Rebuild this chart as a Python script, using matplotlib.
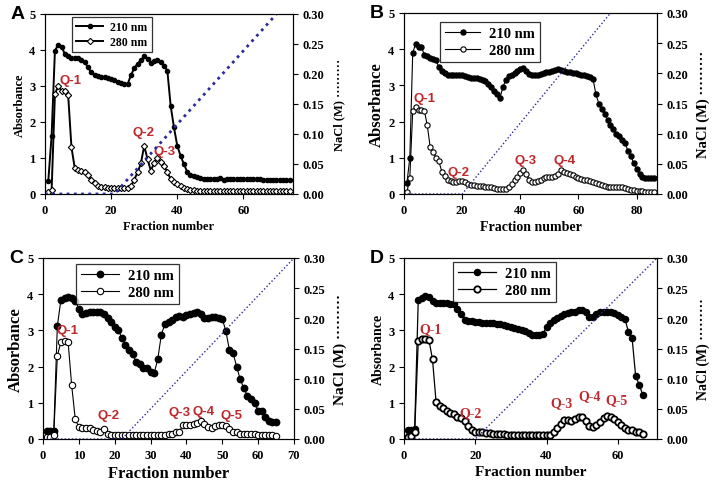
import matplotlib
matplotlib.use('Agg')
import matplotlib.pyplot as plt
from matplotlib.ticker import FormatStrFormatter

plt.rcParams['font.family'] = ['Liberation Serif', 'DejaVu Serif']
plt.rcParams['font.weight'] = 'bold'
plt.rcParams['axes.labelweight'] = 'bold'

# ---- data ----
a_210 = [0.37, 1.62, 3.98, 4.15, 4.09, 3.89, 3.82, 3.78, 3.78, 3.77,
         3.72, 3.66, 3.52, 3.38, 3.31, 3.28, 3.26, 3.24, 3.22, 3.20,
         3.18, 3.10, 3.07, 3.06, 3.06, 3.30, 3.50, 3.62, 3.72, 3.82,
         3.75, 3.64, 3.70, 3.73, 3.68, 3.56, 3.43, 2.45, 1.85, 1.34,
         1.06, 0.83, 0.62, 0.53, 0.49, 0.46, 0.44, 0.42, 0.42, 0.43,
         0.43, 0.42, 0.44, 0.38, 0.42, 0.42, 0.42, 0.41, 0.41, 0.41,
         0.41, 0.41, 0.41, 0.41, 0.41, 0.40, 0.40, 0.40, 0.40, 0.40,
         0.40, 0.39, 0.39, 0.39]
a_280 = [0.05, 0.10, 2.78, 3.00, 2.87, 2.87, 2.75, 1.30, 0.72, 0.68,
         0.63, 0.60, 0.52, 0.40, 0.30, 0.23, 0.20, 0.19, 0.18, 0.18,
         0.18, 0.17, 0.17, 0.16, 0.17, 0.22, 0.40, 0.60, 0.85, 1.34,
         0.97, 0.65, 0.86, 1.00, 0.88, 0.79, 0.60, 0.42, 0.33, 0.27,
         0.22, 0.18, 0.15, 0.12, 0.10, 0.09, 0.08, 0.07, 0.07, 0.07,
         0.07, 0.07, 0.07, 0.07, 0.07, 0.07, 0.07, 0.07, 0.07, 0.07,
         0.07, 0.07, 0.07, 0.07, 0.07, 0.07, 0.07, 0.07, 0.07, 0.07,
         0.07, 0.07, 0.07, 0.07]
a_nacl_x = [0, 21, 70]
a_nacl_y = [0.0, 0.0, 0.30]

b_210 = [0.30, 1.00, 3.90, 4.15, 4.05, 4.05, 3.85, 3.80, 3.75, 3.72,
         3.70, 3.50, 3.40, 3.35, 3.30, 3.28, 3.28, 3.28, 3.28, 3.28,
         3.25, 3.22, 3.20, 3.20, 3.20, 3.18, 3.15, 3.12, 3.05, 2.95,
         2.85, 2.75, 2.65, 2.95, 3.15, 3.25, 3.30, 3.35, 3.40, 3.45,
         3.48, 3.40, 3.32, 3.28, 3.28, 3.30, 3.32, 3.35, 3.38, 3.38,
         3.40, 3.42, 3.45, 3.42, 3.40, 3.38, 3.38, 3.35, 3.35, 3.32,
         3.30, 3.28, 3.25, 3.22, 3.18, 2.75, 2.50, 2.35, 2.20, 2.05,
         1.90, 1.80, 1.65, 1.60, 1.50, 1.40, 1.20, 1.05, 0.85, 0.70,
         0.55, 0.47, 0.43, 0.43, 0.43, 0.43]
b_280 = [0.05, 0.45, 2.30, 2.40, 2.32, 2.32, 2.30, 1.90, 1.30, 1.15,
         1.00, 0.90, 0.62, 0.50, 0.40, 0.35, 0.33, 0.33, 0.35, 0.36,
         0.32, 0.28, 0.25, 0.24, 0.23, 0.22, 0.22, 0.20, 0.20, 0.18,
         0.16, 0.15, 0.14, 0.14, 0.15, 0.20, 0.28, 0.38, 0.48, 0.58,
         0.65, 0.55, 0.40, 0.32, 0.33, 0.36, 0.40, 0.45, 0.48, 0.48,
         0.48, 0.50, 0.55, 0.65, 0.62, 0.58, 0.55, 0.52, 0.48, 0.45,
         0.42, 0.40, 0.38, 0.36, 0.34, 0.30, 0.27, 0.24, 0.22, 0.20,
         0.20, 0.19, 0.19, 0.19, 0.18, 0.16, 0.14, 0.12, 0.10, 0.08,
         0.07, 0.07, 0.06, 0.06, 0.06, 0.06]
b_nacl_x = [0, 20, 71]
b_nacl_y = [0.0, 0.0, 0.30]

c_210 = [0.22, 0.22, 0.22, 3.12, 3.85, 3.90, 3.92, 3.90, 3.82, 3.60,
         3.45, 3.48, 3.50, 3.50, 3.50, 3.50, 3.45, 3.35, 3.22, 3.10,
         3.00, 2.80, 2.60, 2.45, 2.35, 2.12, 2.08, 1.95, 1.95, 1.85,
         1.82, 2.20, 2.88, 3.18, 3.22, 3.28, 3.38, 3.40, 3.38, 3.42,
         3.45, 3.48, 3.50, 3.45, 3.35, 3.35, 3.38, 3.38, 3.35, 3.32,
         2.98, 2.45, 2.38, 2.00, 1.65, 1.40, 1.20, 1.10, 1.00, 0.78,
         0.78, 0.62, 0.50, 0.47, 0.46]
c_280 = [0.05, 0.05, 0.12, 2.30, 2.68, 2.70, 2.68, 1.48, 0.55, 0.32,
         0.30, 0.30, 0.30, 0.25, 0.22, 0.20, 0.28, 0.15, 0.10, 0.10,
         0.10, 0.10, 0.10, 0.10, 0.10, 0.10, 0.10, 0.10, 0.10, 0.10,
         0.10, 0.10, 0.10, 0.12, 0.15, 0.15, 0.18, 0.20, 0.38, 0.40,
         0.40, 0.42, 0.45, 0.50, 0.42, 0.32, 0.30, 0.35, 0.40, 0.40,
         0.35, 0.28, 0.20, 0.18, 0.15, 0.14, 0.13, 0.13, 0.13, 0.12,
         0.10, 0.10, 0.10, 0.10, 0.08]
c_nacl_x = [0, 22, 70]
c_nacl_y = [0.0, 0.0, 0.30]

d_210 = [0.25, 0.25, 0.28, 3.85, 3.90, 3.95, 3.92, 3.80, 3.75, 3.75,
         3.75, 3.75, 3.72, 3.72, 3.60, 3.45, 3.30, 3.27, 3.25, 3.23,
         3.22, 3.20, 3.20, 3.20, 3.20, 3.18, 3.17, 3.15, 3.12, 3.10,
         3.08, 3.05, 3.00, 2.98, 2.92, 2.88, 2.88, 2.88, 2.90, 3.10,
         3.20, 3.28, 3.35, 3.40, 3.45, 3.48, 3.50, 3.52, 3.55, 3.57,
         3.50, 3.38, 3.38, 3.45, 3.52, 3.52, 3.52, 3.50, 3.47, 3.42,
         3.37, 3.32, 2.95, 2.80, 1.75, 1.50, 1.22]
d_280 = [0.05, 0.08, 0.20, 2.70, 2.75, 2.77, 2.73, 2.20, 1.02, 0.92,
         0.85, 0.78, 0.72, 0.68, 0.62, 0.58, 0.50, 0.35, 0.25, 0.20,
         0.18, 0.18, 0.17, 0.16, 0.15, 0.15, 0.14, 0.13, 0.12, 0.12,
         0.10, 0.10, 0.10, 0.10, 0.10, 0.10, 0.10, 0.10, 0.10, 0.10,
         0.12, 0.20, 0.30, 0.42, 0.52, 0.52, 0.50, 0.55, 0.62, 0.62,
         0.50, 0.35, 0.33, 0.38, 0.48, 0.58, 0.63, 0.62, 0.55, 0.48,
         0.38, 0.30, 0.26, 0.25, 0.20, 0.18, 0.15]
d_nacl_x = [0, 20, 71]
d_nacl_y = [0.0, 0.0, 0.30]

# peak labels: (text, fraction, absorbance)
a_peaks = [('Q-1', 7.7, 3.17), ('Q-2', 29.8, 1.71), ('Q-3', 36.2, 1.2)]
b_peaks = [('Q-1', 6.9, 2.64), ('Q-2', 18.6, 0.62), ('Q-3', 41.7, 0.95),
           ('Q-4', 55.2, 0.95)]
c_peaks = [('Q-1', 6.8, 3.0), ('Q-2', 18.4, 0.65), ('Q-3', 38.1, 0.74),
           ('Q-4', 44.9, 0.78), ('Q-5', 52.5, 0.66)]
d_peaks = [('Q-1', 7.3, 3.06), ('Q-2', 18.6, 0.74), ('Q-3', 44.1, 1.0),
           ('Q-4', 52.1, 1.2), ('Q-5', 59.6, 1.08)]

RED = '#c0282d'
NAVY = '#2a2a9c'

W, H = 714, 489


def px_rect(left, top, right, bottom):
    return [left / W, 1 - bottom / H, (right - left) / W, (bottom - top) / H]


def draw_panel(fig, rect, letter, y210, y280, nacl_x, nacl_y, peaks, xmax,
               xticks, st):
    ax = fig.add_axes(rect)
    frac = list(range(1, len(y210) + 1))

    ax.plot(frac, y210, color='black', lw=st['lw'], marker='o', ms=st['ms'],
            mfc='black', mec='black', label='210 nm', zorder=3)
    ax.plot(frac, y280, color='black', lw=st['lw'], marker=st['m280'],
            ms=st['ms280'], mfc='white', mec='black', mew=st['mew'],
            label='280 nm', zorder=3)

    ax.set_xlim(0, xmax)
    ax.set_ylim(0, 5)
    ax.set_xticks(xticks)
    ax.set_yticks([0, 1, 2, 3, 4, 5])
    ax.tick_params(labelsize=9, length=3.5, width=0.8)
    ax.set_ylabel('Absorbance', fontsize=st['lab'], labelpad=2)
    ax.set_xlabel('Fraction number', fontsize=st['xlab'], labelpad=3)

    for name, x, y in peaks:
        ax.text(x, y, name, color=RED, fontsize=st['q'], ha='center',
                va='center', fontweight='bold', family=st['qfont'])

    leg = ax.legend(loc='upper left', bbox_to_anchor=st['leg'],
                    fontsize=st['legfs'], frameon=True, fancybox=False,
                    edgecolor='black', handlelength=st['hl'], borderpad=0.35,
                    labelspacing=0.25, handletextpad=0.6, borderaxespad=0)
    leg.get_frame().set_linewidth(0.9)

    ax2 = ax.twinx()
    ax2.plot(nacl_x, nacl_y, color=NAVY, lw=st['nlw'], ls=(0, (1, 1.6)))
    ax2.set_ylim(0, 0.30)
    ax2.set_yticks([0, 0.05, 0.10, 0.15, 0.20, 0.25, 0.30])
    ax2.yaxis.set_major_formatter(FormatStrFormatter('%.2f'))
    ax2.tick_params(labelsize=9, length=3.5, width=0.8)
    ax2.set_ylabel('NaCl (M) \u00b7\u00b7\u00b7\u00b7\u00b7\u00b7\u00b7\u00b7\u00b7',
                   fontsize=st['nlab'], labelpad=6)

    fig.text(rect[0] - 0.038, rect[1] + rect[3], letter, fontsize=14,
             fontweight='bold', family='Liberation Sans', ha='center',
             va='center')
    return ax


fig = plt.figure(figsize=(7.14, 4.89), dpi=100)

style_a = dict(lw=1.4, ms=3.0, m280='D', ms280=3.2, mew=0.8, lab=9, xlab=9,
               q=9.5, qfont='Liberation Sans', leg=(0.109, 0.983), legfs=8.5,
               hl=2.3, nlw=2.0, nlab=9)
style_b = dict(lw=0.8, ms=3.6, m280='o', ms280=3.8, mew=0.8, lab=12, xlab=10,
               q=9.5, qfont='Liberation Sans', leg=(0.142, 0.95), legfs=10.5,
               hl=2.4, nlw=1.0, nlab=10.5)
style_c = dict(lw=0.8, ms=4.6, m280='o', ms280=4.6, mew=0.8, lab=12, xlab=12,
               q=9.5, qfont='Liberation Sans', leg=(0.131, 0.967), legfs=10.5,
               hl=2.6, nlw=1.0, nlab=11)
style_d = dict(lw=0.9, ms=4.4, m280='o', ms280=4.6, mew=1.3, lab=10, xlab=11,
               q=10, qfont='Liberation Serif', leg=(0.194, 0.978), legfs=10.5,
               hl=2.6, nlw=1.0, nlab=10)

draw_panel(fig, px_rect(45, 15, 293, 195), 'A', a_210, a_280, a_nacl_x,
           a_nacl_y, a_peaks, 75, [0, 20, 40, 60], style_a)
draw_panel(fig, px_rect(404, 14, 657, 195), 'B', b_210, b_280, b_nacl_x,
           b_nacl_y, b_peaks, 87, [0, 20, 40, 60, 80], style_b)
draw_panel(fig, px_rect(43, 259, 294, 440), 'C', c_210, c_280, c_nacl_x,
           c_nacl_y, c_peaks, 70, [0, 10, 20, 30, 40, 50, 60, 70], style_c)
draw_panel(fig, px_rect(404, 259, 657, 440), 'D', d_210, d_280, d_nacl_x,
           d_nacl_y, d_peaks, 71, [0, 20, 40, 60], style_d)

fig.savefig('out.png', dpi=100)
